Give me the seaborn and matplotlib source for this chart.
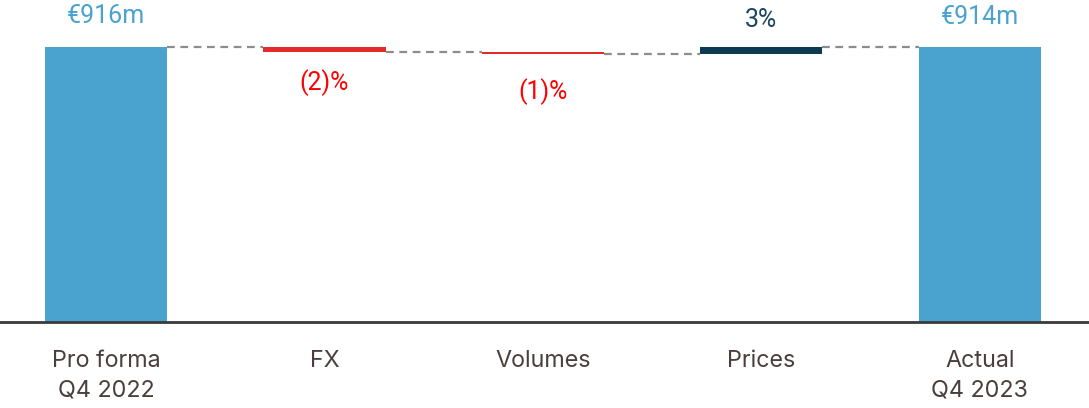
import numpy as np
import pandas as pd
import matplotlib
matplotlib.use("Agg")
import matplotlib.pyplot as plt
import seaborn as sns

# waterfall data, in EUR m
categories = ["Pro forma\nQ4 2022", "FX", "Volumes", "Prices", "Actual\nQ4 2023"]
start_value = 916
deltas = [-17, -8, 23]          # FX, Volumes, Prices
end_value = 914
value_labels = ["€916m", "(2)%", "(1)%", "3%", "€914m"]

blue = "#4AA3CF"
red = "#E32B2B"
navy = "#0B3A52"
text_grey = "#4A3F3C"

# build bottoms / heights from the running total
running = [start_value]
for d in deltas:
    running.append(running[-1] + d)
bottoms = [0]
heights = [start_value]
for i, d in enumerate(deltas):
    bottoms.append(min(running[i], running[i + 1]))
    heights.append(abs(d))
bottoms.append(0)
heights.append(end_value)

colors = [blue] + [red if d < 0 else navy for d in deltas] + [blue]
df = pd.DataFrame({"step": categories, "height": heights})

sns.set_theme(style="white")
plt.rcParams["font.family"] = ["Inter", "DejaVu Sans"]

fig = plt.figure(figsize=(10.89, 4.08), dpi=100)
ax = fig.add_axes([0, 86 / 408, 1, 322 / 408])

sns.barplot(data=df, x="step", y="height", color=blue, width=0.56,
            bottom=bottoms, saturation=1, linewidth=0, ax=ax)
for patch, c in zip(ax.patches, colors):
    patch.set_facecolor(c)

# dashed connectors between bars
half = 0.28
levels = [start_value] + running[1:]
for i in range(len(categories) - 1):
    ax.plot([i + half, i + 1 - half], [levels[i], levels[i]],
            ls=(0, (3.5, 2.5)), color="#8C8C8C", lw=1.6, zorder=0)

# value labels
label_colors = [blue, "#FF0000", "#FF0000", "#1B4660", blue]
offsets = [22, -22, -27, 20, 22]
for i, lab in enumerate(value_labels):
    anchor = bottoms[i] if offsets[i] < 0 else bottoms[i] + heights[i]
    ax.annotate(lab, (i, anchor), xytext=(0, offsets[i]), textcoords="offset points",
                ha="center", va="center", color=label_colors[i], fontsize=18,
                family=["Roboto", "DejaVu Sans"])

ax.set_xlim(-0.485, 4.5)
ax.set_ylim(0, 1072)
ax.set_xlabel("")
ax.set_ylabel("")
ax.set_yticks([])
ax.tick_params(axis="x", length=0, pad=20, labelsize=16.8, labelcolor=text_grey)
for t in ax.get_xticklabels():
    t.set_linespacing(1.45)
for s in ["top", "left", "right"]:
    ax.spines[s].set_visible(False)
ax.spines["bottom"].set_color("#3A3A3A")
ax.spines["bottom"].set_linewidth(2)

fig.savefig("out.png", dpi=100)
